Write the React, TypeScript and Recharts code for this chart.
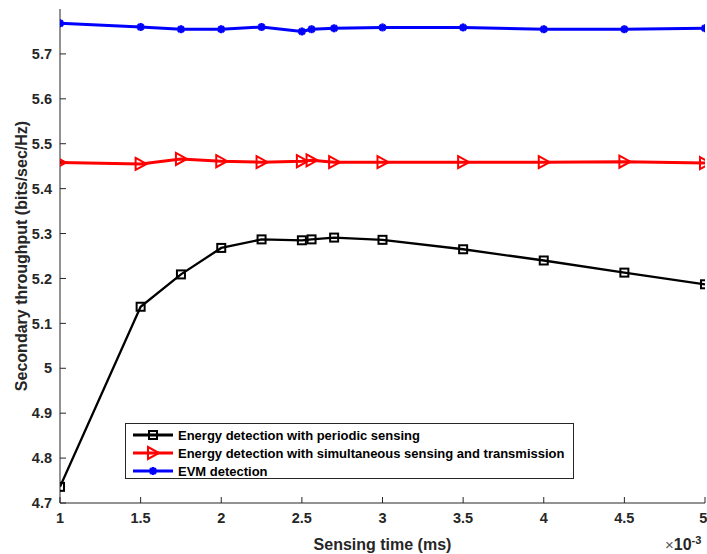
import React from "react";
import { LineChart, Line, XAxis, YAxis, Legend } from "recharts";

// sensing time (x 10^-3 ms)
const sensingTime = [1, 1.5, 1.75, 2, 2.25, 2.5, 2.56, 2.7, 3, 3.5, 4, 4.5, 5];
const periodic = [4.736, 5.137, 5.209, 5.268, 5.287, 5.285, 5.287, 5.291, 5.286, 5.265, 5.24, 5.213, 5.187];
const simultaneous = [5.458, 5.455, 5.466, 5.461, 5.459, 5.461, 5.463, 5.459, 5.459, 5.459, 5.459, 5.46, 5.457];
const evm = [5.768, 5.76, 5.755, 5.755, 5.76, 5.75, 5.755, 5.757, 5.759, 5.759, 5.755, 5.755, 5.757];

const xTicks = [1, 1.5, 2, 2.5, 3, 3.5, 4, 4.5, 5];
const yTicks = [4.7, 4.8, 4.9, 5, 5.1, 5.2, 5.3, 5.4, 5.5, 5.6, 5.7];

const seriesInfo = [
  { key: "periodic", name: "Energy detection with periodic sensing", color: "#000000", width: 2.3 },
  { key: "simultaneous", name: "Energy detection with simultaneous sensing and transmission", color: "#ff0000", width: 3 },
  { key: "evm", name: "EVM detection", color: "#0000ff", width: 3 },
];

const data = sensingTime.map((t, i) => ({
  t,
  periodic: periodic[i],
  simultaneous: simultaneous[i],
  evm: evm[i],
}));

const FONT = "'Liberation Sans', Arial, Helvetica, sans-serif";
const AXIS = "#262626";

function Marker({ kind, cx, cy, color }: { kind: string; cx: number; cy: number; color: string }) {
  if (kind === "periodic") {
    return <rect x={cx - 4} y={cy - 4} width={8} height={8} fill="none" stroke={color} strokeWidth={2} />;
  }
  if (kind === "simultaneous") {
    return (
      <polygon
        points={`${cx - 5},${cy - 6} ${cx + 6},${cy} ${cx - 5},${cy + 6}`}
        fill="none"
        stroke={color}
        strokeWidth={2}
      />
    );
  }
  const r = 4;
  const d = 2.9;
  return (
    <g stroke={color} strokeWidth={2.5}>
      <line x1={cx - r} y1={cy} x2={cx + r} y2={cy} />
      <line x1={cx} y1={cy - r} x2={cx} y2={cy + r} />
      <line x1={cx - d} y1={cy - d} x2={cx + d} y2={cy + d} />
      <line x1={cx - d} y1={cy + d} x2={cx + d} y2={cy - d} />
    </g>
  );
}

function LegendBox() {
  return (
    <div
      style={{
        border: `1px solid ${AXIS}`,
        background: "#fff",
        width: 449,
        height: 56,
        boxSizing: "border-box",
        paddingTop: 2,
        fontFamily: FONT,
        fontWeight: "bold",
        fontSize: 13,
        color: "#000",
      }}
    >
      {seriesInfo.map((s) => (
        <div key={s.key} style={{ display: "flex", alignItems: "center", height: 18 }}>
          <svg width={52} height={18} style={{ flex: "none" }}>
            <line x1={7} y1={9} x2={47} y2={9} stroke={s.color} strokeWidth={3} />
            <Marker kind={s.key} cx={27} cy={9} color={s.color} />
          </svg>
          <span>{s.name}</span>
        </div>
      ))}
    </div>
  );
}

const noLabel = () => <g />;

export default function App() {
  return (
    <div style={{ position: "absolute", left: 0, top: 0, width: 707, height: 554, background: "#fff" }}>
      <LineChart width={707} height={554} data={data} margin={{ top: 9, right: 2, bottom: 0, left: 0 }}>
        <XAxis
          xAxisId="b"
          dataKey="t"
          type="number"
          domain={[1, 5]}
          ticks={xTicks}
          allowDataOverflow
          height={51}
          stroke={AXIS}
          tickSize={-6}
          tickMargin={16}
          tick={{ fill: AXIS, fontSize: 14.5, fontWeight: "bold", fontFamily: FONT }}
          label={{
            value: "Sensing time (ms)",
            position: "insideBottom",
            offset: 4,
            fill: AXIS,
            fontSize: 16,
            fontWeight: "bold",
            fontFamily: FONT,
          }}
        />
        <XAxis
          xAxisId="t"
          orientation="top"
          dataKey="t"
          type="number"
          domain={[1, 5]}
          ticks={xTicks}
          allowDataOverflow
          height={0}
          stroke={AXIS}
          tickSize={-6}
          tick={noLabel}
        />
        <YAxis
          yAxisId="l"
          type="number"
          domain={[4.7, 5.8]}
          ticks={yTicks}
          allowDataOverflow
          width={60}
          stroke={AXIS}
          tickSize={-6}
          tickMargin={14}
          tick={{ fill: AXIS, fontSize: 14.5, fontWeight: "bold", fontFamily: FONT }}
          label={{
            content: ({ viewBox }: any) => {
              const cx = 21;
              const cy = viewBox.y + viewBox.height / 2;
              return (
                <text
                  x={cx}
                  y={cy}
                  transform={`rotate(-90 ${cx} ${cy})`}
                  textAnchor="middle"
                  dominantBaseline="central"
                  fill={AXIS}
                  fontSize={16}
                  fontWeight="bold"
                  fontFamily={FONT}
                >
                  Secondary throughput (bits/sec/Hz)
                </text>
              );
            },
          }}
        />
        <YAxis
          yAxisId="r"
          orientation="right"
          type="number"
          domain={[4.7, 5.8]}
          ticks={yTicks}
          allowDataOverflow
          width={0}
          stroke={AXIS}
          tickSize={-6}
          tick={noLabel}
        />
        <Legend
          layout="vertical"
          align="center"
          verticalAlign="middle"
          wrapperStyle={{ position: "absolute", left: 125, top: 423, width: 449, height: 56 }}
          content={() => <LegendBox />}
        />
        {seriesInfo.map((s) => (
          <Line
            key={s.key}
            xAxisId="b"
            yAxisId="l"
            type="linear"
            dataKey={s.key}
            name={s.name}
            stroke={s.color}
            strokeWidth={s.width}
            isAnimationActive={false}
            activeDot={false}
            dot={(p: any) => <Marker key={p.key ?? `${s.key}-${p.index}`} kind={s.key} cx={p.cx} cy={p.cy} color={s.color} />}
          />
        ))}
      </LineChart>
      <div
        style={{
          position: "absolute",
          left: 665,
          top: 535,
          fontFamily: FONT,
          color: AXIS,
          whiteSpace: "nowrap",
          lineHeight: 1,
        }}
      >
        <span style={{ fontSize: 15, color: "#555" }}>×</span>
        <span style={{ fontSize: 16, fontWeight: "bold" }}>10</span>
        <sup style={{ fontSize: 11, fontWeight: "bold", verticalAlign: 6, lineHeight: 1 }}>-3</sup>
      </div>
    </div>
  );
}
